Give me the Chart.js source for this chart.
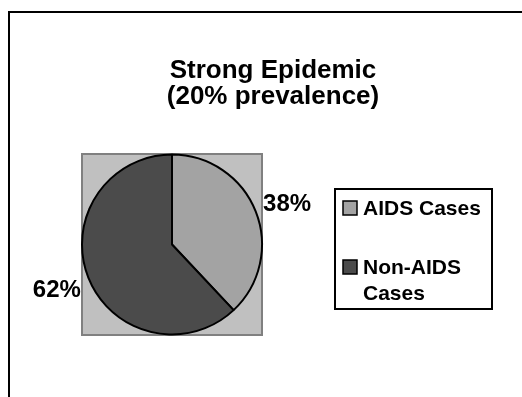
<!DOCTYPE html>
<html>
<head>
<meta charset="utf-8">
<script src="https://cdn.jsdelivr.net/npm/chart.js@4/dist/chart.umd.min.js"></script>
<style>
  html, body { margin: 0; padding: 0; background: #ffffff; }
  canvas { display: block; }
</style>
</head>
<body>
<canvas id="c" width="522" height="397"></canvas>
<script>
const titleLines = ['Strong Epidemic', '(20% prevalence)'];
const categories = ['AIDS Cases', 'Non-AIDS Cases'];
const values = [38, 62];
const sliceColors = ['#a3a3a3', '#4b4b4b'];

const FONT = '"Liberation Sans", Arial, Helvetica, sans-serif';

const decorPlugin = {
  id: 'decor',
  beforeDraw(chart) {
    const ctx = chart.ctx;
    ctx.save();
    // slide frame (top and left edges)
    ctx.strokeStyle = '#000000';
    ctx.lineWidth = 2;
    ctx.beginPath();
    ctx.moveTo(9, 397);
    ctx.lineTo(9, 12);
    ctx.lineTo(522, 12);
    ctx.stroke();
    // plot area
    const a = chart.chartArea;
    ctx.fillStyle = '#c0c0c0';
    ctx.fillRect(a.left, a.top, a.right - a.left, a.bottom - a.top);
    ctx.strokeStyle = '#808080';
    ctx.lineWidth = 2;
    ctx.strokeRect(a.left, a.top, a.right - a.left, a.bottom - a.top);
    // title
    ctx.fillStyle = '#000000';
    ctx.font = 'bold 26px ' + FONT;
    ctx.textAlign = 'center';
    ctx.textBaseline = 'alphabetic';
    ctx.fillText(titleLines[0], 273, 78);
    ctx.fillText(titleLines[1], 273, 104);
    ctx.restore();
  },
  afterDraw(chart) {
    const ctx = chart.ctx;
    const meta = chart.getDatasetMeta(0);
    const data = chart.data.datasets[0].data;
    const total = data.reduce((s, v) => s + v, 0);
    ctx.save();
    // percentage labels
    ctx.fillStyle = '#000000';
    ctx.font = 'bold 24px ' + FONT;
    ctx.textBaseline = 'middle';
    meta.data.forEach((arc, i) => {
      const p = arc.getProps(['x', 'y', 'startAngle', 'endAngle', 'outerRadius'], true);
      const mid = (p.startAngle + p.endAngle) / 2;
      const c = Math.cos(mid), s = Math.sin(mid);
      const r = p.outerRadius + 8;
      const x = p.x + r * c;
      const y = p.y + r * s + (s > 0 ? 10 : -4);
      ctx.textAlign = c >= 0 ? 'left' : 'right';
      ctx.fillText(Math.round(data[i] / total * 100) + '%', x, y);
    });
    // legend
    const lx = 335, ly = 189, lw = 157, lh = 120;
    ctx.strokeStyle = '#000000';
    ctx.lineWidth = 2;
    ctx.fillStyle = '#ffffff';
    ctx.fillRect(lx, ly, lw, lh);
    ctx.strokeRect(lx, ly, lw, lh);
    ctx.font = 'bold 21px ' + FONT;
    ctx.textAlign = 'left';
    ctx.textBaseline = 'alphabetic';
    const maxW = 122;
    let baseline = 215;
    chart.data.labels.forEach((label, i) => {
      // wrap
      const words = label.split(' ');
      const lines = [];
      let cur = '';
      words.forEach(w => {
        const t = cur ? cur + ' ' + w : w;
        if (ctx.measureText(t).width > maxW && cur) { lines.push(cur); cur = w; }
        else cur = t;
      });
      if (cur) lines.push(cur);
      // swatch
      ctx.fillStyle = chart.data.datasets[0].backgroundColor[i];
      ctx.fillRect(343, baseline - 14, 14, 14);
      ctx.lineWidth = 1.5;
      ctx.strokeStyle = '#000000';
      ctx.strokeRect(343, baseline - 14, 14, 14);
      ctx.fillStyle = '#000000';
      lines.forEach((ln, k) => {
        ctx.fillText(ln, 363, baseline + k * 26);
      });
      baseline += 59;
    });
    ctx.restore();
  }
};

new Chart(document.getElementById('c'), {
  type: 'pie',
  data: {
    labels: categories,
    datasets: [{
      data: values,
      backgroundColor: sliceColors,
      borderColor: '#000000',
      borderWidth: 2,
      radius: 90
    }]
  },
  options: {
    responsive: false,
    animation: false,
    layout: { padding: { left: 82, top: 154, right: 260, bottom: 62 } },
    plugins: {
      legend: { display: false },
      tooltip: { enabled: false },
      title: { display: false }
    }
  },
  plugins: [decorPlugin]
});
</script>
</body>
</html>
